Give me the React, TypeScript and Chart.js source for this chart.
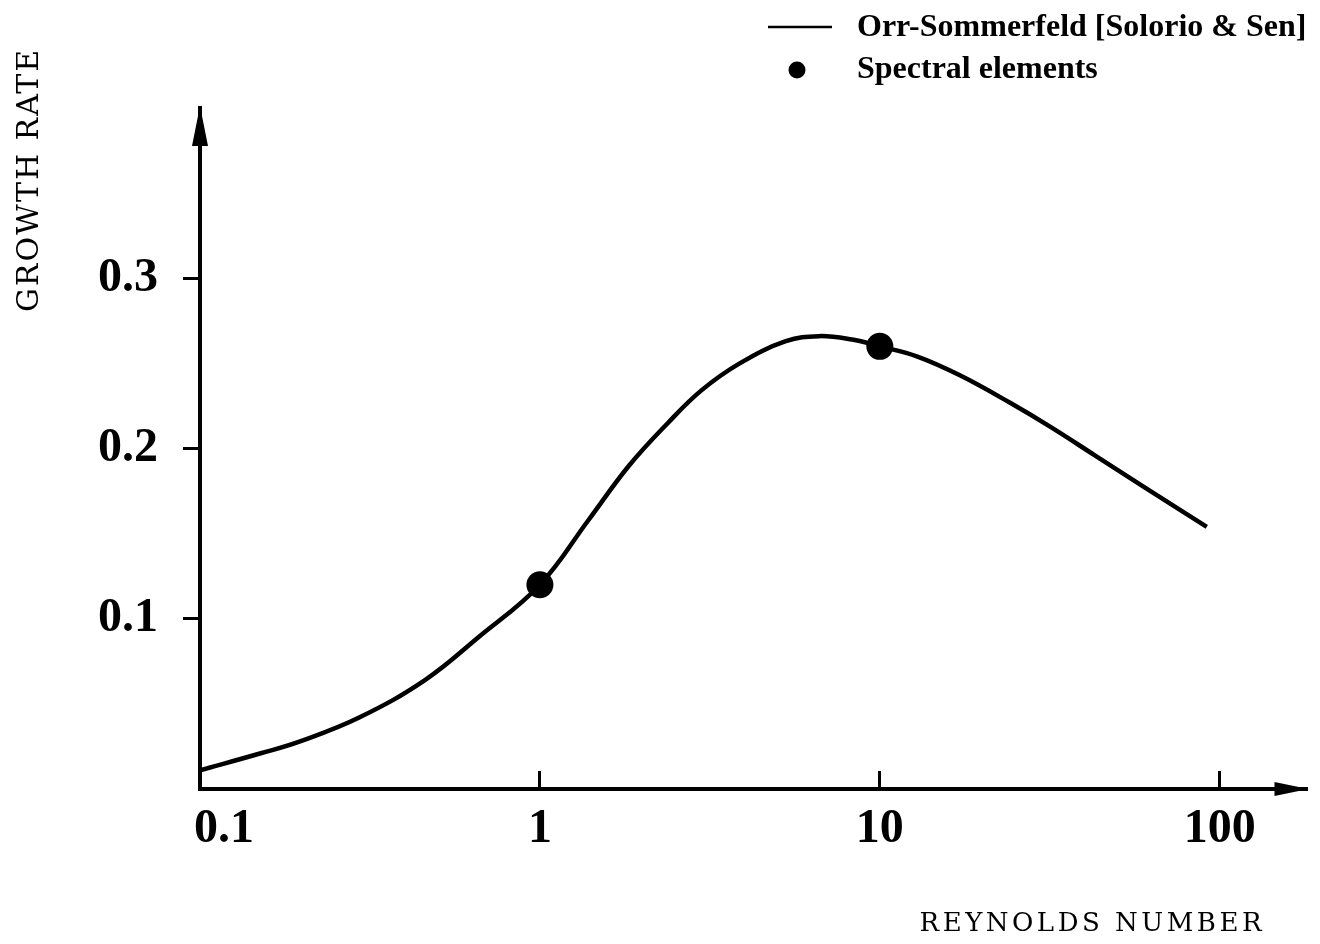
import React, { useEffect, useRef } from "react";
import { Chart, registerables } from "chart.js";

Chart.register(...registerables);

// Orr-Sommerfeld growth-rate curve (Reynolds number, growth rate)
const reynolds = [0.1, 0.151, 0.197, 0.294, 0.459, 0.658, 1.0, 1.39, 1.83, 2.38, 2.98, 3.87, 5.29, 6.62, 8.28, 10, 12.9, 17.2, 24.1, 31.6, 42.9, 61.4, 91.6];
const growthRate = [0.011, 0.021, 0.028, 0.042, 0.064, 0.089, 0.12, 0.158, 0.19, 0.215, 0.234, 0.25, 0.263, 0.266, 0.264, 0.26, 0.254, 0.243, 0.227, 0.213, 0.196, 0.176, 0.154];

// Spectral element results
const spectralRe = [1, 10];
const spectralRate = [0.12, 0.26];

const xTickValues = [0.1, 1, 10, 100];
const xTickLabels = ["0.1", "1", "10", "100"];
const yTickValues = [0.1, 0.2, 0.3];
const yTickLabels = ["0.1", "0.2", "0.3"];

const seriesLabels = ["Orr-Sommerfeld [Solorio & Sen]", "Spectral elements"];
const xTitle = "REYNOLDS NUMBER";
const yTitle = "GROWTH RATE";

const INK = "#000";
const tickFont = { family: "'Liberation Serif', 'Times New Roman', serif", size: 48, weight: "bold" as const };

// Arrow heads, legend and axis titles drawn around the plot
const decorations = {
  id: "decorations",
  afterDraw(chart: Chart) {
    const { ctx, chartArea } = chart;
    const { left, right, top, bottom } = chartArea;
    ctx.save();
    ctx.fillStyle = INK;
    ctx.strokeStyle = INK;

    // arrow at the top of the y axis
    ctx.beginPath();
    ctx.moveTo(left, top - 2);
    ctx.lineTo(left - 8, top + 38);
    ctx.lineTo(left + 8, top + 38);
    ctx.closePath();
    ctx.fill();

    // arrow at the end of the x axis
    ctx.beginPath();
    ctx.moveTo(right + 2, bottom);
    ctx.lineTo(right - 32, bottom - 7);
    ctx.lineTo(right - 32, bottom + 7);
    ctx.closePath();
    ctx.fill();

    // legend
    ctx.font = "bold 32px 'Liberation Serif', 'Times New Roman', serif";
    ctx.textAlign = "left";
    ctx.textBaseline = "middle";
    ctx.lineWidth = 2.5;
    ctx.beginPath();
    ctx.moveTo(768, 27);
    ctx.lineTo(832, 27);
    ctx.stroke();
    ctx.fillText(String(chart.data.datasets[0].label), 857, 28);
    ctx.beginPath();
    ctx.arc(797, 70, 8.5, 0, Math.PI * 2);
    ctx.fill();
    ctx.fillText(String(chart.data.datasets[1].label), 857, 70);

    // axis titles
    const c = ctx as any;
    ctx.font = "26px 'DejaVu Serif', serif";
    c.letterSpacing = "3.5px";
    ctx.textAlign = "right";
    ctx.textBaseline = "middle";
    ctx.fillText(xTitle, 1265, 924);

    ctx.font = "30px 'DejaVu Serif', serif";
    c.letterSpacing = "2px";
    ctx.translate(30, 180);
    ctx.rotate(-Math.PI / 2);
    ctx.textAlign = "center";
    ctx.fillText(yTitle, 0, 0);
    c.letterSpacing = "0px";
    ctx.restore();
  },
};

export default function App() {
  const canvasRef = useRef<HTMLCanvasElement | null>(null);

  useEffect(() => {
    const canvas = canvasRef.current;
    if (!canvas) return;
    const chart = new Chart(canvas, {
      type: "line",
      data: {
        datasets: [
          {
            label: seriesLabels[0],
            data: reynolds.map((r, i) => ({ x: r, y: growthRate[i] })),
            borderColor: INK,
            borderWidth: 4.5,
            pointRadius: 0,
            tension: 0.4,
            fill: false,
          },
          {
            label: seriesLabels[1],
            data: spectralRe.map((r, i) => ({ x: r, y: spectralRate[i] })),
            showLine: false,
            pointRadius: 13.5,
            pointBackgroundColor: INK,
            pointBorderColor: INK,
            pointBorderWidth: 0,
          },
        ],
      },
      options: {
        animation: false,
        responsive: false,
        maintainAspectRatio: false,
        layout: { padding: { top: 108, right: 13, left: 0, bottom: 0 } },
        plugins: { legend: { display: false }, tooltip: { enabled: false } },
        scales: {
          x: {
            type: "logarithmic",
            min: 0.1,
            max: 180,
            afterBuildTicks: (s: any) => {
              s.ticks = xTickValues.map((v) => ({ value: v }));
            },
            afterFit: (s: any) => {
              s.height = 155;
            },
            grid: { drawOnChartArea: false, drawTicks: true, tickLength: -18, color: INK, lineWidth: 3 },
            border: { display: true, color: INK, width: 4 },
            ticks: {
              color: INK,
              font: tickFont,
              padding: 30,
              maxRotation: 0,
              autoSkip: false,
              callback: (v: any) => {
                const i = xTickValues.indexOf(Number(v));
                const lbl = xTickLabels[i] ?? "";
                // the first label sits just right of the origin
                return i === 0 ? "    " + lbl : lbl;
              },
            },
          },
          y: {
            type: "linear",
            min: 0,
            max: 0.4,
            afterBuildTicks: (s: any) => {
              s.ticks = yTickValues.map((v) => ({ value: v }));
            },
            afterFit: (s: any) => {
              s.width = 200;
            },
            grid: { drawOnChartArea: false, drawTicks: true, tickLength: 17, color: INK, lineWidth: 3 },
            border: { display: true, color: INK, width: 4 },
            ticks: {
              color: INK,
              font: tickFont,
              padding: 25,
              autoSkip: false,
              callback: (v: any) => yTickLabels[yTickValues.indexOf(Number(v))] ?? "",
            },
          },
        },
      },
      plugins: [decorations],
    });
    return () => chart.destroy();
  }, []);

  return (
    <div style={{ position: "absolute", left: 0, top: 0, width: 1320, height: 944, background: "#fff" }}>
      <canvas ref={canvasRef} width={1320} height={944} style={{ display: "block" }} />
    </div>
  );
}
